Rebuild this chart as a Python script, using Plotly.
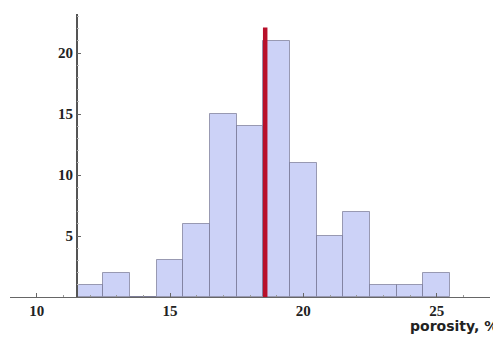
import plotly.graph_objects as go

bin_centers = [12, 13, 14, 15, 16, 17, 18, 19, 20, 21, 22, 23, 24, 25]
counts = [1, 2, 0, 3, 6, 15, 14, 21, 11, 5, 7, 1, 1, 2]
bin_width = 1.0
mean_porosity = 18.57
mean_line_top = 22.1
x_ticks = [10, 15, 20, 25]
y_ticks = [5, 10, 15, 20]

x_min, x_max = 9.0, 27.0
y_min, y_max = 0.0, 23.2
y_axis_x = 11.5

# The page body has an 8px default margin, so the figure is sized to fit the 501x339 window.
fig = go.Figure()
fig.add_trace(go.Bar(
    x=bin_centers, y=counts, width=bin_width,
    marker=dict(color="rgb(204,210,247)", line=dict(color="rgba(100,100,130,0.6)", width=1)),
    hoverinfo="x+y", showlegend=False,
))
fig.add_trace(go.Scatter(
    x=[mean_porosity, mean_porosity], y=[0, mean_line_top], mode="lines",
    line=dict(color="#b8102a", width=4.5), showlegend=False, hoverinfo="skip",
))

tick_font = dict(family="Liberation Serif, Times New Roman, serif", size=15, color="#222", weight="bold")

fig.update_layout(
    width=493, height=331,
    margin=dict(l=2, r=11, t=6, b=42, autoexpand=False),
    paper_bgcolor="white", plot_bgcolor="white",
    bargap=0,
    xaxis=dict(
        range=[x_min, x_max], domain=[0, 1], automargin=False,
        tickvals=x_ticks, ticks="inside", ticklen=4, tickcolor="#666",
        minor=dict(dtick=1, ticks="inside", ticklen=2, tickcolor="#999"),
        showline=True, linecolor="#666", linewidth=1,
        showgrid=False, zeroline=False,
        tickfont=tick_font, anchor="y",
    ),
    yaxis=dict(
        range=[y_min, y_max], automargin=False,
        tickvals=y_ticks, ticks="inside", ticklen=4, tickcolor="#666",
        minor=dict(dtick=1, ticks="inside", ticklen=2, tickcolor="#bbb"),
        showline=True, linecolor="#555", linewidth=1.5,
        showgrid=False, zeroline=False,
        tickfont=tick_font,
        anchor="free", position=(y_axis_x - x_min) / (x_max - x_min),
    ),
    annotations=[dict(
        text="<b>porosity, %</b>", xref="paper", yref="paper",
        x=1.02, y=-0.068, xanchor="right", yanchor="top", showarrow=False,
        font=dict(family="DejaVu Sans, sans-serif", size=14, color="#222"),
    )],
)

fig.write_html("out.html")
